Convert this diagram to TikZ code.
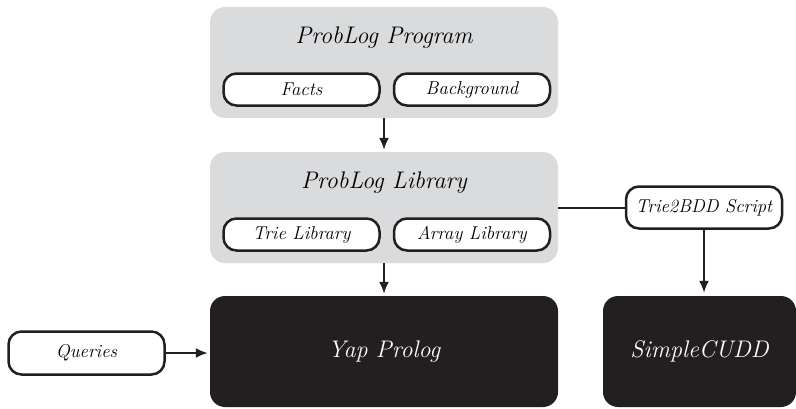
\documentclass[tikz,border=0pt]{standalone}
\usetikzlibrary{arrows.meta}
\definecolor{boxgrey}{RGB}{218,219,221}
\definecolor{boxblack}{RGB}{35,31,32}
\tikzset{
  bigfont/.style={font=\fontsize{24}{28}\selectfont\itshape},
  smallfont/.style={font=\fontsize{18.6}{22}\selectfont\itshape},
  greybox/.style={fill=boxgrey, draw=none, rounded corners=15pt, minimum width=348pt, minimum height=111pt, inner sep=0pt},
  blackbox/.style={fill=boxblack, draw=none, rounded corners=15pt, minimum height=111pt, inner sep=0pt, text=white, bigfont},
  whitebox/.style={fill=white, draw=boxblack, line width=2.5pt, rounded corners=13pt, minimum width=156pt, minimum height=32pt, inner sep=0pt, smallfont},
  conn/.style={draw=boxblack, line width=2pt},
  arr/.style={conn, -{Latex[length=12pt,width=10pt]}},
}
\begin{document}
\begin{tikzpicture}[x=1pt,y=-1pt]
\useasboundingbox (0,0) rectangle (796,408);
% grey containers
\node[greybox] (prog) at (384,62.5) {};
\node[bigfont] (progt) at (384,38) {ProbLog Program};
\node[whitebox] (facts) at (301.5,89.5) {Facts};
\node[whitebox] (bg) at (472,89.5) {Background};
\node[greybox] (lib) at (384,207.5) {};
\node[bigfont] (libt) at (384,183) {ProbLog Library};
\node[whitebox] (trie) at (301.5,234.5) {Trie Library};
\node[whitebox] (array) at (472,234.5) {Array Library};
% black boxes
\node[blackbox, minimum width=348pt] (yap) at (384,351.5) {Yap Prolog};
\node[blackbox, minimum width=193pt] (cudd) at (699.5,351.5) {SimpleCUDD};
% side boxes
\node[whitebox, minimum height=43pt] (queries) at (86.5,353) {Queries};
\node[whitebox, minimum height=42pt, inner sep=0pt] (t2b) at (704,207.5) {Trie2BDD Script};
% connectors
\draw[arr, shorten >=2pt] (prog.south) -- (lib.north);
\draw[arr, shorten >=2pt] (lib.south) -- (yap.north);
\draw[arr, shorten >=2pt] (queries.east) -- (queries.east -| yap.west);
\draw[conn] (lib.east) -- (t2b.west);
\draw[arr, shorten >=3pt] (t2b.south) -- (t2b.south |- cudd.north);
\end{tikzpicture}
\end{document}
